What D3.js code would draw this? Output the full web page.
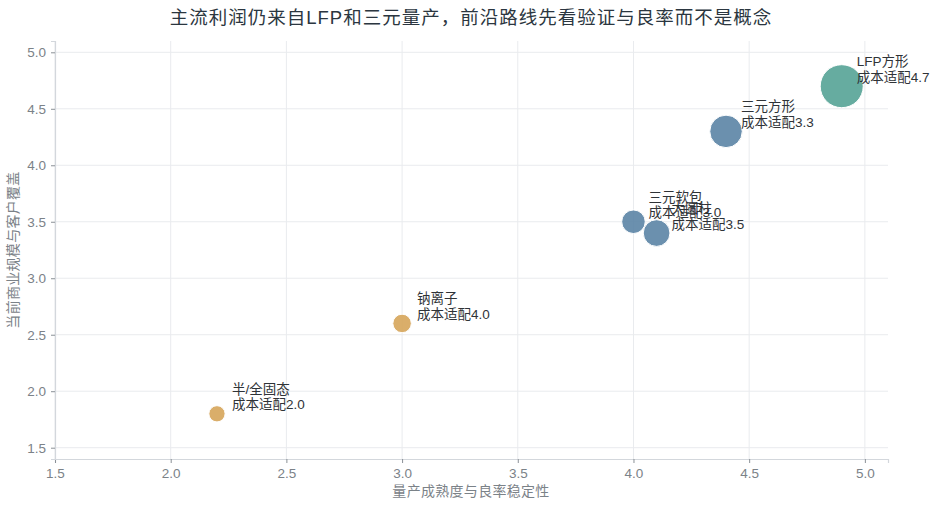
<!DOCTYPE html>
<html>
<head>
<meta charset="utf-8">
<script src="https://cdn.jsdelivr.net/npm/d3@7"></script>
<style>
  body { margin: 0; background: #fff; }
  svg { font-family: "Liberation Sans", "Noto Sans CJK SC", sans-serif; }
</style>
</head>
<body>
<div id="grafico"></div>
<script>
// Datos del gráfico
var rutas = ["半/全固态", "钠离子", "三元软包", "大圆柱", "三元方形", "LFP方形"];
var madurez = [2.2, 3.0, 4.0, 4.1, 4.4, 4.9];      // eje x
var escala = [1.8, 2.6, 3.5, 3.4, 4.3, 4.7];       // eje y
var costo = [2.0, 4.0, 3.0, 3.5, 3.3, 4.7];        // texto de etiqueta
var tamano = [10, 13, 21, 27, 40, 70];             // tamaño de burbuja
var grupo = ["前沿", "前沿", "三元", "三元", "三元", "LFP"];
var xTicks = [1.5, 2.0, 2.5, 3.0, 3.5, 4.0, 4.5, 5.0];
var yTicks = [1.5, 2.0, 2.5, 3.0, 3.5, 4.0, 4.5, 5.0];

var width = 936;
var height = 508;
var margin = { top: 41, right: 48, bottom: 49, left: 55 };

var svg = d3.select("#grafico")
    .append("svg")
    .attr("width", width)
    .attr("height", height);

var x = d3.scaleLinear().domain([1.5, 5.1]).range([margin.left, width - margin.right]);
var y = d3.scaleLinear().domain([1.4, 5.1]).range([height - margin.bottom, margin.top]);
var r = d3.scaleSqrt().domain([0, 70]).range([0, 21.5]);
var color = d3.scaleOrdinal()
    .domain(["前沿", "三元", "LFP"])
    .range(["#d6a55a", "#5b84a5", "#55a396"]);

// Rejilla
svg.append("g")
    .selectAll("line.gx")
    .data(xTicks)
    .enter()
    .append("line")
    .attr("x1", function(d) { return x(d); })
    .attr("x2", function(d) { return x(d); })
    .attr("y1", y.range()[0])
    .attr("y2", y.range()[1])
    .attr("stroke", "#e9ebee")
    .attr("stroke-width", 1);

svg.append("g")
    .selectAll("line.gy")
    .data(yTicks)
    .enter()
    .append("line")
    .attr("x1", x.range()[0])
    .attr("x2", x.range()[1])
    .attr("y1", function(d) { return y(d); })
    .attr("y2", function(d) { return y(d); })
    .attr("stroke", "#e9ebee")
    .attr("stroke-width", 1);

// Ejes
var ejeX = svg.append("g")
    .attr("transform", "translate(0," + y.range()[0] + ")")
    .call(d3.axisBottom(x).tickValues(xTicks).tickFormat(d3.format(".1f")).tickSizeOuter(0).tickSize(4).tickPadding(5));

var ejeY = svg.append("g")
    .attr("transform", "translate(" + x.range()[0] + ",0)")
    .call(d3.axisLeft(y).tickValues(yTicks).tickFormat(d3.format(".1f")).tickSizeOuter(0).tickSize(4).tickPadding(5));

[ejeX, ejeY].forEach(function(eje) {
    eje.select(".domain").attr("stroke", "#d3d7dc").attr("stroke-width", 1.2);
    eje.selectAll(".tick line").attr("stroke", "#8a9096");
    eje.selectAll(".tick text")
        .attr("fill", "#7b8288")
        .style("font-size", "13.5px")
        .style("font-family", "'Liberation Sans', sans-serif");
});

// Datos combinados
var dataset = rutas.map(function(d, i) {
    return { nombre: d, x: madurez[i], y: escala[i], costo: costo[i], tamano: tamano[i], grupo: grupo[i] };
});

// Burbujas
svg.append("g")
    .selectAll("circle")
    .data(dataset)
    .enter()
    .append("circle")
    .attr("cx", function(d) { return x(d.x); })
    .attr("cy", function(d) { return y(d.y); })
    .attr("r", function(d) { return r(d.tamano); })
    .attr("fill", function(d) { return color(d.grupo); })
    .attr("fill-opacity", 0.9)
    .attr("stroke", "#fff")
    .attr("stroke-width", 1);

// Etiquetas
var etiquetas = svg.append("g")
    .selectAll("text")
    .data(dataset)
    .enter()
    .append("text")
    .attr("x", function(d) { return x(d.x) + 15; })
    .attr("y", function(d) { return y(d.y); })
    .attr("fill", "#2f3337")
    .style("font-size", "13.5px");

etiquetas.append("tspan")
    .attr("x", function(d) { return x(d.x) + 15; })
    .attr("dy", -20)
    .text(function(d) { return d.nombre; });

etiquetas.append("tspan")
    .attr("x", function(d) { return x(d.x) + 15; })
    .attr("dy", 15.5)
    .text(function(d) { return "成本适配" + d3.format(".1f")(d.costo); });

// Título
svg.append("text")
    .attr("x", 471)
    .attr("y", 24)
    .attr("text-anchor", "middle")
    .attr("fill", "#2b3640")
    .style("font-size", "18.5px")
    .style("letter-spacing", "1px")
    .text("主流利润仍来自LFP和三元量产，前沿路线先看验证与良率而不是概念");

// Títulos de ejes
svg.append("text")
    .attr("x", 471)
    .attr("y", 496)
    .attr("text-anchor", "middle")
    .attr("fill", "#7b8288")
    .style("font-size", "14px")
    .style("letter-spacing", "0.3px")
    .text("量产成熟度与良率稳定性");

svg.append("text")
    .attr("transform", "translate(18," + ((y.range()[0] + y.range()[1]) / 2) + ") rotate(-90)")
    .attr("text-anchor", "middle")
    .attr("fill", "#7b8288")
    .style("font-size", "14px")
    .style("letter-spacing", "0.3px")
    .text("当前商业规模与客户覆盖");
</script>
</body>
</html>
